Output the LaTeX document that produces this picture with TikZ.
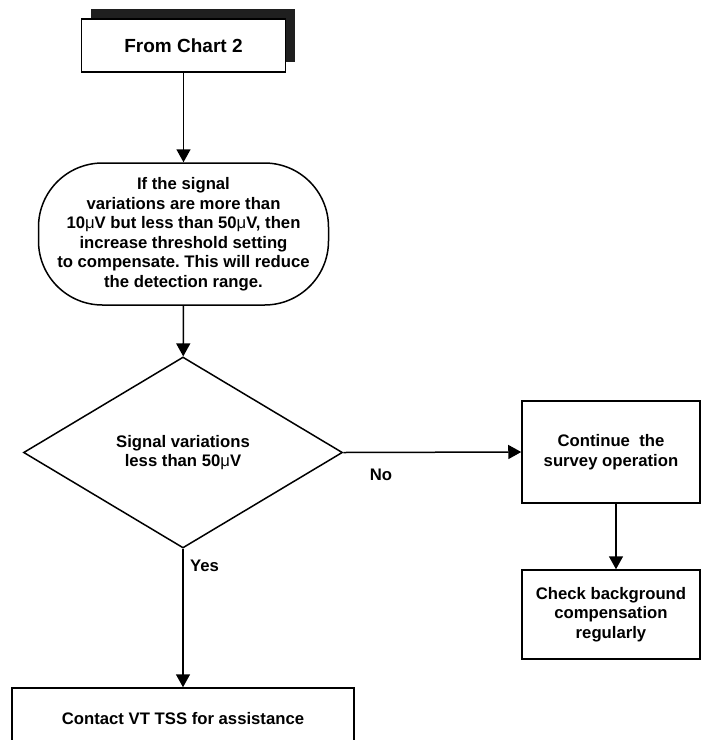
\documentclass[tikz,border=0pt]{standalone}
\usepackage{fontspec}
\setmainfont{Liberation Sans}
\usetikzlibrary{arrows.meta,shapes.geometric,shadows}
\frenchspacing
\newcommand{\chartfont}{\fontsize{16.7}{19.5}\selectfont\bfseries}
\newcommand{\chartbig}{\fontsize{19}{22}\selectfont\bfseries}
\newcommand{\muV}{{\mdseries μ}V}
\tikzset{
  fcbox/.style   ={rectangle, draw=black, line width=1.5pt, fill=white,
                   align=center, inner sep=0pt, font=\chartfont},
  fcstart/.style ={fcbox, font=\chartbig, minimum width=204pt, minimum height=53pt,
                   drop shadow={shadow xshift=9pt, shadow yshift=10pt,
                                fill=black!88, opacity=1}},
  fcround/.style ={fcbox, rounded corners=64pt, minimum width=290pt, minimum height=142pt},
  fcdec/.style   ={diamond, draw=black, line width=1.5pt, fill=white, align=center,
                   inner sep=0pt, font=\chartfont, minimum width=319pt, minimum height=191pt},
  fcside/.style  ={fcbox, minimum width=178pt},
  flow/.style    ={-{Triangle[length=13pt, width=14pt]}, line width=1.5pt, black},
  fclabel/.style ={font=\chartfont, inner sep=0pt},
}
\begin{document}
\begin{tikzpicture}[x=1pt, y=-1pt]
  \useasboundingbox (0,0) rectangle (702,740);
  \clip (0,0) rectangle (702,740);
  \node[fcstart] (start) at (183.5,45.5) {From Chart 2};
  \node[fcround] (adjust) at (183.5,234) {If the signal\\ variations are more than\\
    10\muV{} but less than 50\muV, then\\ increase threshold setting\\
    to compensate. This will reduce\\ the detection range.};
  \node[fcdec] (check) at (183,452.5) {Signal variations\\ less than 50\muV};
  \node[fcbox, minimum width=342pt, minimum height=62pt] (contact) at (183,719)
    {Contact VT TSS for assistance};
  \node[fcside, minimum height=102pt] (survey) at (611,452) {Continue\ \ the\\ survey operation};
  \node[fcside, minimum height=89pt] (backgr) at (611,614.5)
    {Check background\\ compensation\\ regularly};
  \foreach \a/\b in {start/adjust,adjust/check} {
    \draw[flow] (\a) -- (\b);
  }
  \draw[flow] (check.south) -- (contact.north);
  \draw[flow] (check.east) -- (survey.west);
  \draw[flow] ([xshift=5pt]survey.south) -- ([xshift=5pt]backgr.north);
  \node[fclabel] (no) at (381,475) {No};
  \node[fclabel] (yes) at (204.5,566) {Yes};
\end{tikzpicture}
\end{document}
